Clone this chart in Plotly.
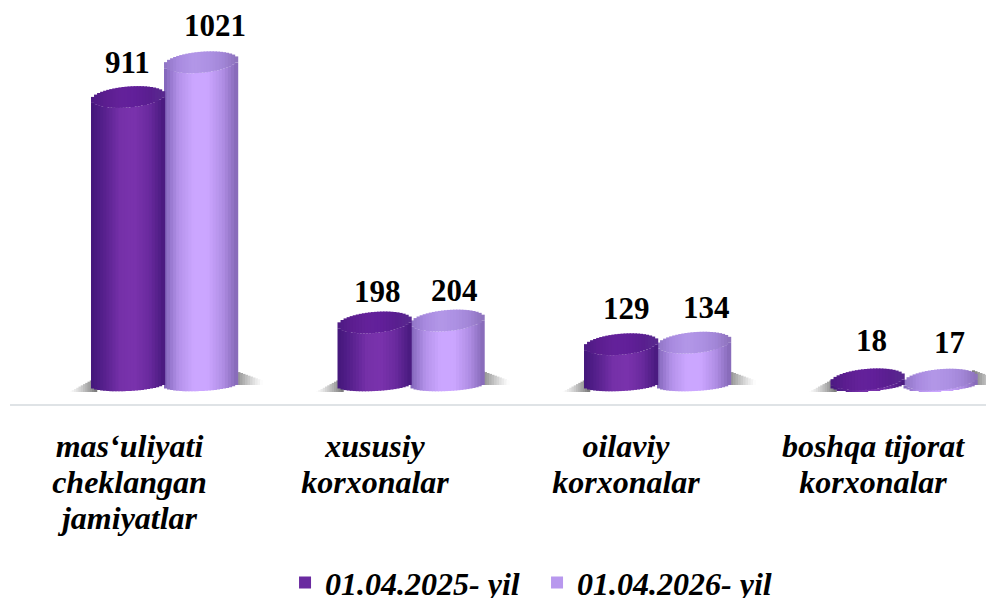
import numpy as np
import plotly.graph_objects as go

categories = ["mas‘uliyati<br>cheklangan<br>jamiyatlar", "xususiy<br>korxonalar", "oilaviy<br>korxonalar", "boshqa tijorat<br>korxonalar"]
series_2025 = [911, 198, 129, 18]
series_2026 = [1021, 204, 134, 17]
name_2025 = "01.04.2025- yil"
name_2026 = "01.04.2026- yil"

# label nudges in px, relative to each bar top
shift_x_2025 = [0, 3, 6, 4]
shift_x_2026 = [14, 7, 13, 9]
shift_y_2025 = [35, 31, 36, 39]
shift_y_2026 = [37, 30, 35, 37]
tick_nudge = [0, -1, 3.5, 4]

PX_X = 246.5
PX_Y = 404 / 1278
BAR_W = 73 / PX_X
STRIPS = 24
CAP_H = 10.5 / PX_Y
BASE_H = 6 / PX_Y
TILT = 3 / PX_Y

def hex_rgb(h):
    return np.array([int(h[i:i + 2], 16) for i in (1, 3, 5)], float)

def mix(stops, t):
    pos = np.linspace(0, 1, len(stops))
    arr = np.array([hex_rgb(s) for s in stops])
    c = [np.interp(t, pos, arr[:, k]) for k in range(3)]
    return "rgb(%d,%d,%d)" % tuple(c)

DARK_BODY = ["#43177a", "#5a2290", "#7631a9", "#7a33ad", "#6a2a9e", "#481a7e"]
DARK_CAP = ["#4d1b83", "#5c1e90", "#64229a", "#62209a", "#5a1f90", "#582a8e"]
LIGHT_BODY = ["#8064b8", "#b492ea", "#cba6ff", "#cba6ff", "#b18fe6", "#8568b6"]
LIGHT_CAP = ["#8f74c4", "#a98be0", "#b397e8", "#ae92e4", "#a387d8", "#8d72bc"]

def cylinder(values, centre_px, body_cols, cap_cols):
    x, off, body_y, body_base, cap_y, cap_base, bc, cc = [], [], [], [], [], [], [], []
    w = BAR_W / STRIPS
    for i, v in enumerate(values):
        for k in range(STRIPS):
            u = (k + 0.5) / STRIPS
            t = 2 * u - 1
            s = np.sqrt(max(1 - t * t, 0))
            tilt = TILT * t
            x.append(i)
            off.append(centre_px / PX_X - BAR_W / 2 + k * w)
            lo = -BASE_H * s + tilt * 0.6
            top = max(v - CAP_H * s + tilt, lo)
            body_base.append(lo)
            body_y.append(top - lo)
            cap_base.append(v - CAP_H * s + tilt)
            cap_y.append(2 * CAP_H * s)
            bc.append(mix(body_cols, u))
            cc.append(mix(cap_cols, u))
    common = dict(x=x, offset=off, width=w * 1.4, showlegend=False, hoverinfo="skip")
    return [
        go.Bar(y=body_y, base=body_base, marker=dict(color=bc, line_width=0), **common),
        go.Bar(y=cap_y, base=cap_base, marker=dict(color=cc, line_width=0), **common),
    ]

def shadow():
    x, off, y, base, col = [], [], [], [], []
    n = 12
    for i in range(len(categories)):
        for side, (a, b) in (("l", (-95, -68)), ("r", (68, 98))):
            w = (b - a) / n
            for k in range(n):
                u = (k + 0.5) / n
                fade = u if side == "l" else 1 - u
                g = int(255 - 135 * fade ** 1.2)
                px = a + k * w
                x.append(i)
                off.append(px / PX_X)
                if side == "l":
                    lo, hi = -22, -22 + 46 * fade
                else:
                    lo, hi = 0, 14 + 34 * fade
                base.append(lo)
                y.append(hi - lo)
                col.append("rgb(%d,%d,%d)" % (g, g, g))
    return go.Bar(x=x, y=y, base=base, offset=off, width=30 / n / PX_X * 1.2,
                  marker=dict(color=col, line_width=0), showlegend=False, hoverinfo="skip")

fig = go.Figure()
fig.add_trace(shadow())
for tr in cylinder(series_2026, 36, LIGHT_BODY, LIGHT_CAP):
    fig.add_trace(tr)
for tr in cylinder(series_2025, -37, DARK_BODY, DARK_CAP):
    fig.add_trace(tr)

fig.add_trace(go.Bar(x=[None], y=[None], name=name_2025, marker=dict(color="#6a2aa0", line_width=0), legendrank=1))
fig.add_trace(go.Bar(x=[None], y=[None], name=name_2026, marker=dict(color="#b898ee", line_width=0), legendrank=2))

label_font = dict(family="Liberation Serif", size=31, color="#000000", weight=700)
for vals, cx, sx, sy in ((series_2025, -37, shift_x_2025, shift_y_2025), (series_2026, 36, shift_x_2026, shift_y_2026)):
    for i, v in enumerate(vals):
        fig.add_annotation(x=i + cx / PX_X, y=v, text=str(v), showarrow=False, xshift=sx[i], yshift=sy[i],
                           font=label_font, xanchor="center", yanchor="middle")

fig.update_layout(
    width=986, height=598,
    barmode="overlay",
    plot_bgcolor="white", paper_bgcolor="white",
    margin=dict(l=10, r=0, t=0, b=194, autoexpand=False),
    legend=dict(orientation="h", x=0.2818, xanchor="left", y=-0.4425, yanchor="middle",
                font=dict(family="Liberation Serif", size=32, color="#000000", weight=700, style="italic"),
                itemwidth=30, entrywidth=207, entrywidthmode="pixels", bgcolor="rgba(0,0,0,0)"),
    xaxis=dict(range=[(10 - 164.5) / PX_X, (986 - 164.5) / PX_X],
               tickmode="array",
               tickvals=[i + (tick_nudge[i] - 35) / PX_X for i in range(len(categories))],
               ticktext=['<br>'.join('<span style="font-size:32px">%s</span>' % p for p in c.split("<br>")) for c in categories],
               tickangle=0, ticks="outside", ticklen=18, tickcolor="rgba(0,0,0,0)",
               tickfont=dict(family="Liberation Serif", size=27.7, color="#000000", weight=700, style="italic"),
               showline=True, linecolor="#dfe3e6", linewidth=2, showgrid=False, zeroline=False),
    yaxis=dict(range=[-60, 1218], visible=False, showgrid=False, zeroline=False),
)
fig.write_html("out.html", post_script="document.body.style.margin='0';", config={"displayModeBar": False})
